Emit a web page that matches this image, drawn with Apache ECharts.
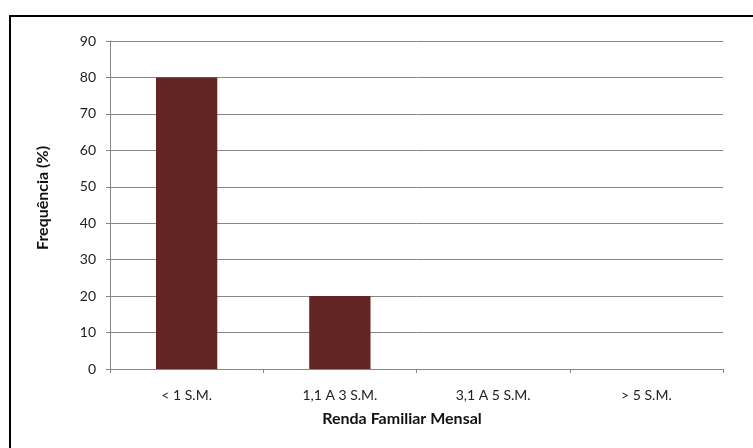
<!DOCTYPE html>
<html><head><meta charset="utf-8">
<script src="https://cdn.jsdelivr.net/npm/echarts@6/dist/echarts.min.js"></script>
<style>
html,body{margin:0;padding:0;background:#fff;overflow:hidden}
#frame{position:absolute;left:9px;top:15px;width:800px;height:500px;border:2px solid #000;box-sizing:border-box}
#c{position:absolute;left:0;top:0;width:753px;height:448px}
</style></head>
<body>
<div id="frame"></div>
<div id="c"></div>
<script>
const categories = ['< 1 S.M.', '1,1 A 3 S.M.', '3,1 A 5 S.M.', '> 5 S.M.'];
const frequencia = [80, 20, 0, 0];
const yTicks = {min: 0, max: 90, interval: 10};

const chart = echarts.init(document.getElementById('c'));
const font = 'Lato, "Open Sans", sans-serif';
chart.setOption({
  animation: false,
  grid: {left: 110, right: 30, top: 41, bottom: 79, containLabel: false},
  xAxis: {
    type: 'category',
    data: categories,
    name: 'Renda Familiar Mensal',
    nameLocation: 'middle',
    nameGap: 42,
    nameTextStyle: {fontFamily: font, fontSize: 16, fontWeight: 'bold', color: '#111', padding: [0, 29, 0, 0]},
    axisLine: {lineStyle: {color: '#868686', width: 1}},
    axisTick: {show: true, length: 4, lineStyle: {color: '#868686'}},
    axisLabel: {fontFamily: font, fontSize: 14, color: '#222', margin: 19}
  },
  yAxis: {
    type: 'value',
    min: yTicks.min, max: yTicks.max, interval: yTicks.interval,
    name: 'Frequência (%)',
    nameLocation: 'middle',
    nameGap: 59,
    nameTextStyle: {fontFamily: font, fontSize: 16, fontWeight: 'bold', color: '#111', padding: [0, 0, 0, 14]},
    axisLine: {show: true, lineStyle: {color: '#868686', width: 1}},
    axisTick: {show: true, length: 4, lineStyle: {color: '#868686'}},
    axisLabel: {fontFamily: font, fontSize: 14, color: '#222', margin: 14},
    splitLine: {lineStyle: {color: '#868686', width: 1}}
  },
  series: [{
    type: 'bar',
    data: frequencia,
    barWidth: '40%',
    itemStyle: {color: '#632523'}
  }]
});
</script>
</body></html>
